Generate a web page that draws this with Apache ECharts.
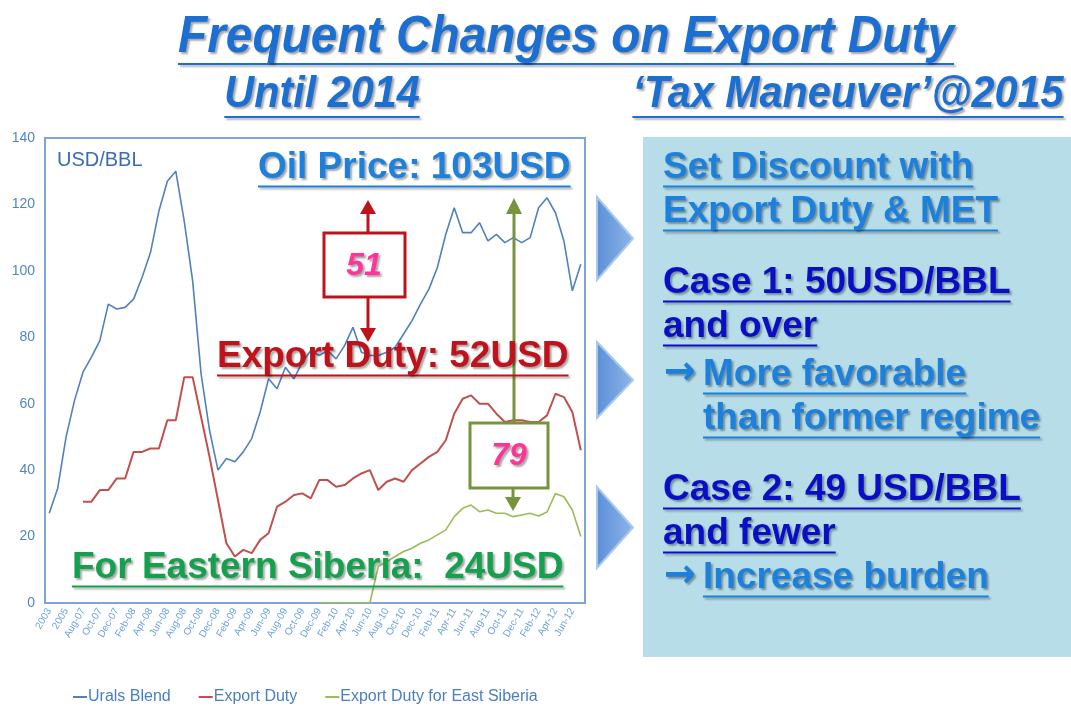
<!DOCTYPE html>
<html>
<head>
<meta charset="utf-8">
<script src="https://cdn.jsdelivr.net/npm/echarts@6/dist/echarts.min.js"></script>
<style>
  html, body { margin: 0; padding: 0; background: #fff; }
  #chart { width: 1071px; height: 708px; }
</style>
</head>
<body>
<div id="chart"></div>
<script>
// categories: annual averages, then monthly
const periods = [
  '2003', '2004', '2005', '2006',
  'Aug-07', 'Sep-07', 'Oct-07', 'Nov-07', 'Dec-07',
  'Jan-08', 'Feb-08', 'Mar-08', 'Apr-08', 'May-08', 'Jun-08', 'Jul-08', 'Aug-08', 'Sep-08', 'Oct-08', 'Nov-08', 'Dec-08',
  'Jan-09', 'Feb-09', 'Mar-09', 'Apr-09', 'May-09', 'Jun-09', 'Jul-09', 'Aug-09', 'Sep-09', 'Oct-09', 'Nov-09', 'Dec-09',
  'Jan-10', 'Feb-10', 'Mar-10', 'Apr-10', 'May-10', 'Jun-10', 'Jul-10', 'Aug-10', 'Sep-10', 'Oct-10', 'Nov-10', 'Dec-10',
  'Jan-11', 'Feb-11', 'Mar-11', 'Apr-11', 'May-11', 'Jun-11', 'Jul-11', 'Aug-11', 'Sep-11', 'Oct-11', 'Nov-11', 'Dec-11',
  'Jan-12', 'Feb-12', 'Mar-12', 'Apr-12', 'May-12', 'Jun-12', 'Jul-12'
];

const uralsBlend = [
  27, 34.5, 50, 61,
  69.5, 74, 79, 90, 88.5,
  89, 91.5, 98, 105.5, 118, 127, 130, 115, 97, 69, 52, 40,
  43.5, 42.5, 45.5, 49.5, 57.5, 67.5, 64.5, 71, 67.5, 72.5, 76, 74.5,
  76, 73.5, 77.5, 83, 75.5, 74.5, 74.5, 75.5, 77, 81, 85, 90,
  94.5, 101, 111, 119, 111.5, 111.5, 114.5, 109, 111, 108.5, 110, 108.5,
  110, 119, 122, 117.5, 109, 94, 102
];

const exportDuty = [
  null, null, null, null,
  30.5, 30.5, 34, 34, 37.5,
  37.5, 45.5, 45.5, 46.5, 46.5, 55, 55, 68, 68, 56, 44, 31,
  18, 14, 16, 15, 19, 21, 29, 30.5, 32.5, 33, 31.5, 37,
  37, 35, 35.5, 37.5, 39, 40, 34, 36.5, 37.5, 36.5, 40, 42,
  44, 45.5, 49, 57, 61.5, 62.5, 60, 60, 57, 54.5, 55, 55,
  54.5, 54.5, 56.5, 63, 62, 57.5, 46
];

const exportDutyEastSiberia = [
  null, null, null, null,
  null, null, null, null, null,
  null, null, null, null, null, null, null, null, null, null, null, null,
  null, null, null, null, null, null, null, null, null, null, null, 0,
  0, 0, 0, 0, 0, 0, 11, 12.5, 14, 15.5, 16.5, 18,
  19, 20.5, 22, 26, 28.5, 29.5, 27.5, 28, 27, 27, 26, 26.5,
  27, 26.2, 27.4, 33, 32, 28, 20
];

const seriesNames = ['Urals Blend', 'Export Duty', 'Export Duty for East Siberia'];

const NARROW = "'Liberation Sans Narrow', 'Arial Narrow', 'Liberation Sans', sans-serif";
const SANS = "'Liberation Sans', Arial, sans-serif";

const chart = echarts.init(document.getElementById('chart'));

// canvas used only to measure text so underlines fit
const measureCtx = document.createElement('canvas').getContext('2d');
function textWidth(str, font) {
  measureCtx.font = font;
  return measureCtx.measureText(str).width;
}

const shadow = { textShadowColor: 'rgba(0,0,0,0.35)', textShadowBlur: 2, textShadowOffsetX: 2, textShadowOffsetY: 2 };

// bold text with underline; x = left edge (or centre), y = middle of caps
function ulText(str, x, y, size, color, opts) {
  opts = opts || {};
  const sx = opts.scaleX || 1;
  const font = (opts.italic ? 'italic ' : '') + 'bold ' + size + 'px ' + (opts.family || SANS);
  const w = textWidth(str, font) * sx;
  const left = opts.center ? x - w / 2 : x;
  const items = [{
    type: 'text', z: 20, x: left, y: y, scaleX: sx,
    style: Object.assign({ text: str, fill: color, font: font, align: 'left', verticalAlign: 'middle' }, shadow)
  }];
  if (!opts.noLine) {
    const uy = y + size * 0.5;
    items.push({
      type: 'line', z: 19,
      shape: { x1: left, y1: uy, x2: left + w, y2: uy },
      style: { stroke: color, lineWidth: 2, shadowColor: 'rgba(0,0,0,0.3)', shadowBlur: 2, shadowOffsetX: 2, shadowOffsetY: 2 }
    });
  }
  return items;
}

const titleBlue = '#1b6fd2';
const lightBlue = '#1d80dc';
const darkBlue = '#0a0fc6';
const red = '#c0121b';
const olive = '#77933c';
const pink = '#ff3399';
const ARROW_FONT = "'DejaVu Sans', 'Liberation Sans', sans-serif";

let g = [];
// right panel
g.push({ type: 'rect', z: 1, shape: { x: 643, y: 137, width: 428, height: 520 }, style: { fill: '#b7dde8' } });

// chevrons
[[197, 280], [342, 418], [487, 568]].forEach(function (r) {
  const mid = (r[0] + r[1]) / 2;
  g.push({
    type: 'polygon', z: 5,
    shape: { points: [[597, r[0]], [633, mid], [597, r[1]]] },
    style: {
      fill: new echarts.graphic.LinearGradient(0, 0, 1, 0, [
        { offset: 0, color: '#5b8fd8' }, { offset: 1, color: '#8fb6e8' }
      ]),
      stroke: '#a9c8ee', lineWidth: 2
    }
  });
});

g = g.concat(ulText('Frequent Changes on Export Duty', 566, 38, 52, titleBlue, { italic: true, center: true, scaleX: 0.92 }));
g = g.concat(ulText('Until 2014', 322, 95, 44, titleBlue, { italic: true, center: true, scaleX: 0.94 }));
g = g.concat(ulText('\u2018Tax Maneuver\u2019@2015', 848, 95, 44, titleBlue, { italic: true, center: true, scaleX: 0.94 }));

// chart annotations
g.push({ type: 'text', z: 20, x: 57, y: 160, style: { text: 'USD/BBL', fill: '#3a6db5', font: '20px ' + SANS, verticalAlign: 'middle' } });
g = g.concat(ulText('Oil Price: 103USD', 258, 168, 37, lightBlue));
g = g.concat(ulText('Export Duty: 52USD', 217, 357, 37, red));
g = g.concat(ulText('For Eastern Siberia:  24USD', 72, 568, 37, '#14a04c'));

// red arrow box (51)
g.push({ type: 'line', z: 15, shape: { x1: 368, y1: 212, x2: 368, y2: 233 }, style: { stroke: red, lineWidth: 3 } });
g.push({ type: 'polygon', z: 15, shape: { points: [[360, 214], [368, 200], [376, 214]] }, style: { fill: red } });
g.push({ type: 'line', z: 15, shape: { x1: 368, y1: 297, x2: 368, y2: 330 }, style: { stroke: red, lineWidth: 3 } });
g.push({ type: 'polygon', z: 15, shape: { points: [[360, 328], [368, 342], [376, 328]] }, style: { fill: red } });
g.push({ type: 'rect', z: 15, shape: { x: 324, y: 233, width: 81, height: 64 }, style: { fill: '#fff', stroke: red, lineWidth: 3 } });
g.push({ type: 'text', z: 16, x: 364, y: 266, style: Object.assign({ text: '51', fill: pink, font: 'italic bold 32px ' + SANS, align: 'center', verticalAlign: 'middle' }, shadow) });

// green arrow (79)
g.push({ type: 'line', z: 15, shape: { x1: 514, y1: 212, x2: 514, y2: 423 }, style: { stroke: olive, lineWidth: 3 } });
g.push({ type: 'polygon', z: 15, shape: { points: [[506, 214], [514, 198], [522, 214]] }, style: { fill: olive } });
g.push({ type: 'line', z: 15, shape: { x1: 513, y1: 488, x2: 513, y2: 500 }, style: { stroke: olive, lineWidth: 3 } });
g.push({ type: 'polygon', z: 15, shape: { points: [[505, 497], [513, 511], [521, 497]] }, style: { fill: olive } });
g.push({ type: 'rect', z: 15, shape: { x: 470, y: 423, width: 78, height: 65 }, style: { fill: '#fff', stroke: olive, lineWidth: 3 } });
g.push({ type: 'text', z: 16, x: 509, y: 456, style: Object.assign({ text: '79', fill: pink, font: 'italic bold 32px ' + SANS, align: 'center', verticalAlign: 'middle' }, shadow) });

// right panel text
g = g.concat(ulText('Set Discount with', 663, 168, 37, lightBlue));
g = g.concat(ulText('Export Duty & MET', 663, 212, 37, lightBlue));
g = g.concat(ulText('Case 1: 50USD/BBL', 663, 283, 37, darkBlue));
g = g.concat(ulText('and over', 663, 327, 37, darkBlue));
g = g.concat(ulText('\u2192', 664, 374, 40, lightBlue, { noLine: true, family: ARROW_FONT, scaleX: 0.95 }));
g = g.concat(ulText('More favorable', 703, 375, 37, lightBlue));
g = g.concat(ulText('than former regime', 703, 419, 37, lightBlue));
g = g.concat(ulText('Case 2: 49 USD/BBL', 663, 490, 37, darkBlue));
g = g.concat(ulText('and fewer', 663, 534, 37, darkBlue));
g = g.concat(ulText('\u2192', 664, 577, 40, lightBlue, { noLine: true, family: ARROW_FONT, scaleX: 0.95 }));
g = g.concat(ulText('Increase burden', 703, 578, 37, lightBlue));

const lineColors = ['#4f81bd', '#c0504d', '#9bbb59'];
const dataSets = [uralsBlend, exportDuty, exportDutyEastSiberia];

chart.setOption({
  animation: false,
  backgroundColor: '#ffffff',
  grid: {
    left: 45, top: 138, width: 540, height: 465,
    show: true, borderColor: '#7ea5db', borderWidth: 2, backgroundColor: 'transparent'
  },
  legend: {
    left: 68, top: 684,
    icon: 'rect', itemWidth: 14, itemHeight: 2, itemGap: 28,
    data: seriesNames,
    textStyle: { color: '#4a7ec4', fontSize: 16, fontFamily: NARROW, padding: [0, 0, 0, -4] }
  },
  xAxis: {
    type: 'category',
    data: periods,
    boundaryGap: true,
    axisLine: { show: true, lineStyle: { color: '#7ea5db', width: 2 } },
    axisTick: { show: false },
    axisLabel: { interval: 1, rotate: 60, color: '#6a9fde', fontSize: 10, fontFamily: NARROW, margin: 6 }
  },
  yAxis: {
    type: 'value', min: 0, max: 140, interval: 20,
    axisLine: { show: true, lineStyle: { color: '#7ea5db', width: 2 } },
    axisTick: { show: false },
    splitLine: { show: false },
    axisLabel: { color: '#4f86c8', fontSize: 14, fontFamily: NARROW, margin: 10 }
  },
  series: seriesNames.map(function (name, k) {
    return {
      name: name, type: 'line', data: dataSets[k],
      symbol: 'none', connectNulls: false,
      lineStyle: { color: lineColors[k], width: k === 1 ? 2 : 1.6 },
      itemStyle: { color: lineColors[k] },
      z: 3
    };
  }),
  graphic: g
});
</script>
</body>
</html>
